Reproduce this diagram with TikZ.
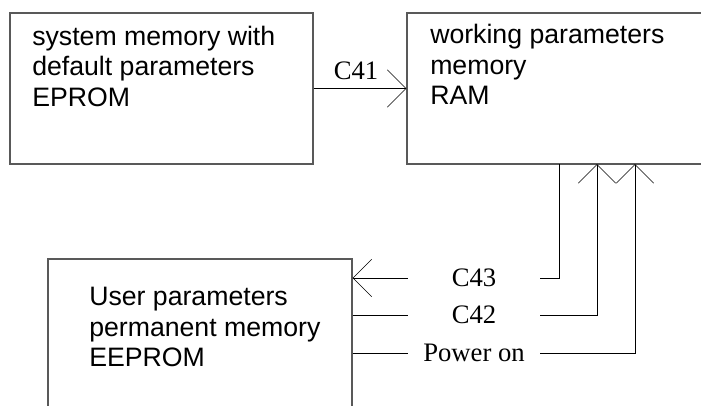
\documentclass[tikz,border=0pt]{standalone}
\usepackage{fontspec}
\setmainfont{Liberation Serif}
\newfontfamily\arialfont{Liberation Sans}
\usepackage{tikz}
\usetikzlibrary{arrows.meta,shapes}
\tikzstyle{memorybox}=[draw=black!65,line width=0.8pt,inner sep=0pt]
\tikzstyle{boxtext}=[anchor=north west,align=left,inner sep=0pt,font=\arialfont\fontsize{20pt}{22.9pt}\selectfont]
\tikzstyle{tagfont}=[font=\fontsize{20pt}{24pt}\selectfont]
\tikzstyle{sigtag}=[tagfont,minimum width=99pt,inner sep=0pt,text height=13.2pt,text depth=0pt]
\tikzstyle{sigline} = [draw,line width=0.5pt]
\tikzstyle{barbtip} = [-{Straight Barb[length=14pt,width=28pt]}]
\tikzstyle{barbback} = [{Straight Barb[length=14pt,width=28pt]}-]

\begin{document}
\begin{tikzpicture}[x=0.75pt,y=-0.75pt]
    \useasboundingbox (0,0) rectangle (701,405);
    \clip (0,0) rectangle (701,405);
    % The three memories
    \node[memorybox,minimum width=227.25pt,minimum height=113.25pt] (sysmem) at (161.5,88.5) {};
    \node[memorybox,minimum width=264.75pt,minimum height=113.25pt] (workmem) at (583.5,88.5) {};
    \node[memorybox,minimum width=228pt,minimum height=143.25pt] (usermem) at (200,354.5) {};
    \node[boxtext] (systext) at (32,25.5) {system memory with\\default parameters\\EPROM};
    \node[boxtext] (worktext) at (430,24) {working parameters\\memory\\RAM};
    \node[boxtext] (usertext) at (89,287) {User parameters\\permanent memory\\EEPROM};

    % Default parameters go into working memory
    \path[sigline,barbtip] (sysmem) -- node[tagfont,above=6.5pt,xshift=-3pt,inner sep=0pt] (c41) {C41} (workmem);

    % Signal tags and the taps under the working memory
    \foreach \pos/\name/\txt/\x in {{(474,278)/c43/C43/559}, {(474,315)/c42/C42/597}, {(474,353)/pwron/Power on/635}}
    {
        \node[sigtag] (\name) at \pos {\txt};
        \coordinate (\name tap) at (\x,164);
    }

    % Connect tags to the memories
    \path[sigline,barbback] (usermem.east |- c43) -- (c43);
    \path[sigline] (c43) -| (c43tap);
    \foreach \name in {c42, pwron}
    {
        \path[sigline] (usermem.east |- \name) -- (\name);
        \path[sigline,barbtip] (\name) -| (\name tap);
    }
\end{tikzpicture}
\end{document}
